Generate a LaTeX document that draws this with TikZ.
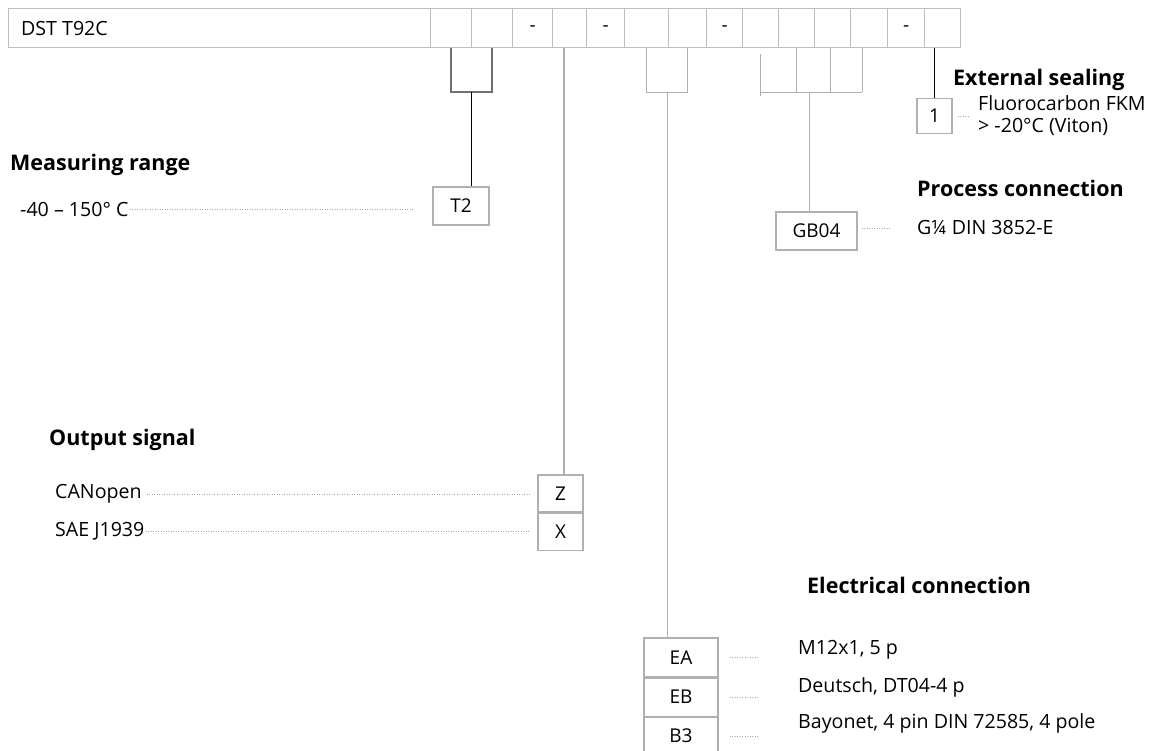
\documentclass[tikz,border=0pt]{standalone}
\usepackage{fontspec}
\setmainfont{Open Sans}
\usetikzlibrary{positioning,calc}
\definecolor{cFrame}{HTML}{BDBDBD}
\definecolor{cDark}{HTML}{707070}
\definecolor{cLight}{HTML}{B0B0B0}
\definecolor{cDots}{HTML}{A8A8A8}
\tikzset{
  cell/.style={rectangle, draw=cFrame, line width=1.3pt, minimum height=39pt, inner sep=0pt, anchor=north west, font=\fontsize{19}{23}\selectfont},
  code/.style={rectangle, draw=cLight, line width=1.1pt, minimum height=38pt, inner sep=0pt, font=\fontsize{19}{23}\selectfont},
  head/.style={font=\fontsize{21.5}{26}\selectfont\bfseries, anchor=west, inner sep=0pt},
  txt/.style={font=\fontsize{19.6}{23}\selectfont, anchor=west, inner sep=0pt},
  lead/.style={cDots, line width=0.9pt, dash pattern=on 0.9pt off 1.6pt},
  brk/.style={cLight, line width=1.1pt},
  brkdark/.style={cDark, line width=1.6pt},
  stem/.style={black, line width=1.1pt},
}

\begin{document}
\begin{tikzpicture}[x=1pt, y=-1pt]
  \useasboundingbox (0,0) rectangle (1149,751);
  % type code bar
  \node[cell, minimum width=422pt] (dst) at (8,8) {};
  \node[txt, right=13pt of dst.west] (dstname) {DST T92C};
  \foreach \n/\xa/\xb/\s in {1/430/471/{},2/471/512/{},3/512/552/-,4/552/586/{},5/586/624/-,6/624/668/{},7/668/706/{},8/706/742/-,9/742/778/{},10/778/814/{},11/814/850/{},12/850/887/{},13/887/924/-,14/924/960/{}}{
    \pgfmathsetmacro\w{\xb-\xa}
    \node[cell, minimum width=\w pt] (c\n) at (\xa,8) {\s};
  }

  % measuring range
  \node[head] (hrange) at (10,165) {Measuring range};
  \node[txt] (trange) at (20,209) {-40 – 150° C};
  \node[code, minimum width=56pt] (t2) at (461,206) {T2};
  \draw[brkdark] (c1.south) -- ++(0,44) -| (c2.south);
  \coordinate (t2fork) at ($(c1.south)!.5!(c2.south)+(0,44)$);
  \draw[stem] (t2fork) -- (t2fork |- t2.north);
  \draw[lead, shorten <=1pt, shorten >=20pt] (trange.east) -- (trange.east -| t2.west);

  % output signal
  \node[head] (hout) at (49,440) {Output signal};
  \node[txt] (tcan) at (55,494) {CANopen};
  \node[txt] (tsae) at (55,531) {SAE J1939};
  \node[code, minimum width=45pt, minimum height=37pt] (z) at (560.5,493.5) {Z};
  \node[code, minimum width=45pt, minimum height=37pt, below=0pt of z] (x) {X};
  \draw[brk] (c4.south -| 564,0) -- (z.north -| 564,0);
  \draw[lead, shorten <=5pt, shorten >=8pt] (tcan.east) -- (tcan.east -| z.west);
  \draw[lead, shorten <=1pt, shorten >=8pt] (tsae.east) -- (tsae.east -| x.west);

  % electrical connection
  \node[head] (helec) at (807,585) {Electrical connection};
  \node[code, minimum width=74pt, minimum height=39pt] (ea) at (681,657.5) {EA};
  \node[code, minimum width=74pt, below=0pt of ea] (eb) {EB};
  \node[code, minimum width=74pt, below=0pt of eb] (b3) {B3};
  \node[txt] (tea) at (798,650) {M12x1, 5 p};
  \node[txt] (teb) at (798,687) {Deutsch, DT04-4 p};
  \node[txt] (tb3) at (798,723) {Bayonet, 4 pin DIN 72585, 4 pole};
  \draw[brk] (c6.south) -- ++(0,44) -| (c7.south);
  \coordinate (eafork) at ($(c6.south)!.5!(c7.south)+(0,44)$);
  \draw[brk] (eafork) -- (eafork |- ea.north);
  \foreach \b in {ea,eb,b3}
    \draw[lead, shorten <=11pt, shorten >=39pt] (\b.east) -- (\b.east -| tea.west);

  % process connection
  \node[head] (hproc) at (917,188) {Process connection};
  \node[code, minimum width=81pt] (gb) at (816.5,231) {GB04};
  \node[txt] (tgb) at (917,228) {G¼ DIN 3852-E};
  \draw[brk] ($(c9.south)+(0,6)$) -- ($(c9.south)+(0,48)$);
  \draw[brk] ($(c9.south)+(0,44)$) -- ($(c12.south)+(-7,44)$);
  \foreach \c/\dx in {c10/0,c11/-2,c12/-7}
    \draw[brk] ($(\c.south)+(\dx,0)$) -- ++(0,44);
  \coordinate (gbfork) at ($(c10.south)!.35!(c11.south)+(0,44)$);
  \draw[brk] (gbfork) -- (gbfork |- gb.north);
  \draw[lead, shorten <=4pt, shorten >=27pt] (gb.east |- tgb.west) -- (tgb.west);

  % external sealing
  \node[head] (hseal) at (953,80) {External sealing};
  \node[code, minimum width=35pt, minimum height=35pt] (one) at (934.5,116) {1};
  \node[txt] (tfkm) at (978,103) {Fluorocarbon FKM};
  \node[txt] (tviton) at (978,127) {> -20°C (Viton)};
  \draw[stem] (one.north |- c14.south) -- (one.north);
  \draw[lead, shorten <=5pt, shorten >=9pt] (one.east) -- (one.east -| tfkm.west);
\end{tikzpicture}
\end{document}
